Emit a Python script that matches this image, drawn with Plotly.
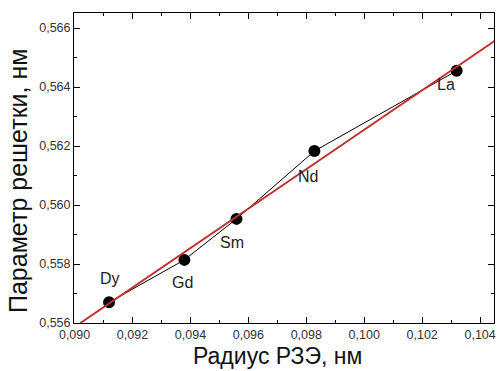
import plotly.graph_objects as go

elements = ["Dy", "Gd", "Sm", "Nd", "La"]
radius = [0.09119, 0.09379, 0.09559, 0.09828, 0.10319]
lattice = [0.5567, 0.55814, 0.55953, 0.56183, 0.56455]

fit_x = [0.0902, 0.1045]
fit_y = [0.5560, 0.56556]

x_ticks = [0.090, 0.092, 0.094, 0.096, 0.098, 0.100, 0.102, 0.104]
y_ticks = [0.556, 0.558, 0.560, 0.562, 0.564, 0.566]

x_title = "Радиус РЗЭ, нм"
y_title = "Параметр решетки, нм"

label_shift = {"Dy": (1, 24), "Gd": (-2, -23), "Sm": (-5, -24), "Nd": (-6, -25), "La": (-11, -14)}

fig = go.Figure()
fig.add_trace(go.Scatter(x=radius, y=lattice, mode="lines+markers",
                         line=dict(color="black", width=1),
                         marker=dict(color="black", size=12),
                         showlegend=False))
fig.add_trace(go.Scatter(x=fit_x, y=fit_y, mode="lines",
                         line=dict(color="#c0302e", width=2),
                         showlegend=False))

for el, xv, yv in zip(elements, radius, lattice):
    dx, dy = label_shift[el]
    fig.add_annotation(x=xv, y=yv, text=el, showarrow=False,
                       xshift=dx, yshift=dy,
                       font=dict(family="Liberation Sans, Arial", size=16, color="#222"))

# axis titles
fig.add_annotation(xref="paper", yref="paper", x=0, y=0.5, text=y_title, showarrow=False,
                   textangle=-90, xanchor="center", yanchor="middle", xshift=-56, yshift=-13,
                   font=dict(family="Liberation Sans, Arial", size=25, color="#111"))
fig.add_annotation(xref="paper", yref="paper", x=0.5, y=0, text=x_title, showarrow=False,
                   xanchor="center", yanchor="bottom", xshift=-7, yshift=-48,
                   font=dict(family="Liberation Sans, Arial", size=23, color="#111"))

axis_common = dict(showline=True, linecolor="black", linewidth=1, mirror="ticks",
                   ticks="inside", ticklen=6, tickcolor="black", tickwidth=1,
                   showgrid=False, zeroline=False, ticklabeloverflow="allow",
                   tickfont=dict(family="Liberation Sans, Arial", size=12.5, color="#333"),
                   minor=dict(ticks="inside", ticklen=3, tickcolor="black", tickwidth=1))

fig.update_xaxes(range=[0.08998, 0.10448], tickvals=x_ticks, tickformat=".3f", **axis_common)
fig.update_xaxes(minor_dtick=0.001, minor_tick0=0.090)
fig.update_yaxes(range=[0.556, 0.56651], tickvals=y_ticks, tickformat=".3f", **axis_common)
fig.update_yaxes(minor_dtick=0.001, minor_tick0=0.556)

fig.update_layout(width=497, height=371, margin=dict(l=74, r=1, t=13, b=48),
                  plot_bgcolor="white", paper_bgcolor="white", separators=", ")

fig.write_html("out.html")
